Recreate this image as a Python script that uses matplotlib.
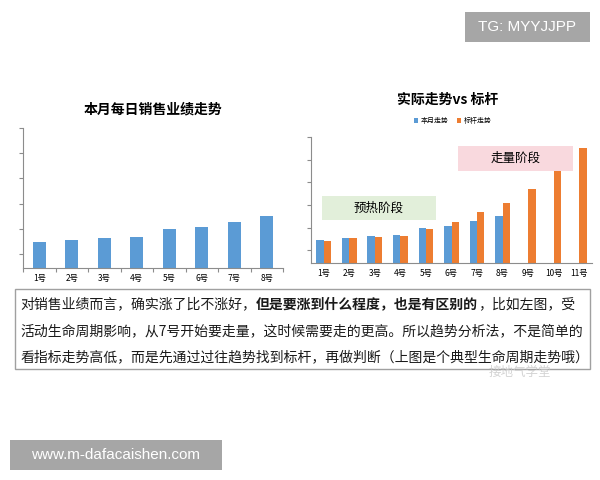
import matplotlib
matplotlib.use('Agg')
import matplotlib.pyplot as plt
from matplotlib.patches import Rectangle

plt.rcParams['font.family'] = ['Noto Sans CJK SC', 'DejaVu Sans']

# data
days_month = ['1号', '2号', '3号', '4号', '5号', '6号', '7号', '8号']
sales_month = [1.47, 1.56, 1.63, 1.68, 2.00, 2.08, 2.28, 2.50]

days_bench = ['1号', '2号', '3号', '4号', '5号', '6号', '7号', '8号', '9号', '10号', '11号']
sales_bench = [1.41, 1.53, 1.58, 1.62, 1.93, 2.27, 2.69, 3.07, 3.71, 4.52, 5.53]

legend_labels = ['本月走势', '标杆走势']
phase_labels = ['预热阶段', '走量阶段']

blue = '#5b9bd5'
orange = '#ed7d31'
axis_col = '#8c8c8c'

fig = plt.figure(figsize=(6, 4.8), dpi=100)


def style_axes(ax, n):
    for s in ['top', 'right']:
        ax.spines[s].set_visible(False)
    for s in ['left', 'bottom']:
        ax.spines[s].set_color(axis_col)
        ax.spines[s].set_linewidth(0.8)
    ax.set_xlim(-0.5, n - 0.5)
    ax.set_ylim(0.44, 6.0)
    ax.set_yticks(range(1, 7))
    ax.set_yticklabels([])
    ax.set_xticks([i - 0.5 for i in range(n + 1)], minor=False)
    ax.set_xticklabels([])
    ax.tick_params(axis='both', direction='out', length=3, color=axis_col, width=0.8)
    ax.set_xticks(range(n), minor=True)
    ax.tick_params(axis='x', which='minor', length=0, labelsize=6, pad=4)


# left chart
ax1 = fig.add_axes([23 / 600, 1 - 268 / 480, 260 / 600, 140 / 480])
x1 = range(len(days_month))
ax1.bar(x1, sales_month, width=0.41, color=blue)
style_axes(ax1, len(days_month))
ax1.set_xticklabels(days_month, minor=True)
fig.text(153 / 600, 1 - 109 / 480, '本月每日销售业绩走势', ha='center', va='center',
         fontsize=10, fontweight='bold')

# right chart
ax2 = fig.add_axes([311 / 600, 1 - 263 / 480, 281 / 600, 126 / 480])
w = 0.29
xb = range(len(days_bench))
xm = range(len(days_month))
b1 = ax2.bar([i - w / 2 for i in xm], sales_month, width=w, color=blue)
b2 = ax2.bar([i + w / 2 for i in xb], sales_bench, width=w, color=orange)
style_axes(ax2, len(days_bench))
ax2.set_xticklabels(days_bench, minor=True)
ax2.tick_params(axis='x', which='major', length=0)

ax2.add_patch(Rectangle((-0.08, 2.33), 4.48, 1.07, facecolor='#e2efda', edgecolor='none', zorder=3))
ax2.text(2.16, 2.86, phase_labels[0], ha='center', va='center', fontsize=9, zorder=4)
ax2.add_patch(Rectangle((5.25, 4.52), 4.51, 1.10, facecolor='#f9d9de', edgecolor='none', zorder=3))
ax2.text(7.5, 5.07, phase_labels[1], ha='center', va='center', fontsize=9, zorder=4)

fig.text(448 / 600, 1 - 100 / 480, '实际走势vs 标杆', ha='center', va='center',
         fontsize=10, fontweight='bold')
fig.legend([b1, b2], legend_labels, loc='center', bbox_to_anchor=(453 / 600, 1 - 121 / 480),
           ncol=2, frameon=False, fontsize=5, handlelength=0.6, handleheight=0.6,
           columnspacing=1.2, handletextpad=0.4)

# text box
fig.add_artist(Rectangle((15 / 600, 1 - 369 / 480), 575 / 600, 80 / 480, transform=fig.transFigure,
                         facecolor='white', edgecolor='#a0a0a0', linewidth=1))

lines = [
    [('对销售业绩而言，确实涨了比不涨好，', 'normal'), ('但是要涨到什么程度，也是有区别的', 'bold'),
     ('，比如左图，受', 'normal')],
    [('活动生命周期影响，从7号开始要走量，这时候需要走的更高。所以趋势分析法，不是简单的', 'normal')],
    [('看指标走势高低，而是先通过过往趋势找到标杆，再做判断（上图是个典型生命周期走势哦）', 'normal')],
]
line_y = [304, 331, 357]
renderer = fig.canvas.get_renderer()
for segs, yy in zip(lines, line_y):
    xpos = 20
    for s, wt in segs:
        t = fig.text(xpos / 600, 1 - yy / 480, s, ha='left', va='center', fontsize=10,
                     fontweight=wt, color='#1a1a1a')
        xpos += t.get_window_extent(renderer).width

fig.text(520 / 600, 1 - 372 / 480, '接地气学堂', ha='center', va='center', fontsize=9,
         color='#c8c8c8', alpha=0.8)

# watermarks
fig.add_artist(Rectangle((465 / 600, 1 - 42 / 480), 125 / 600, 30 / 480, transform=fig.transFigure,
                         facecolor='#a6a6a6', edgecolor='none'))
fig.text(527 / 600, 1 - 27 / 480, 'TG: MYYJJPP', ha='center', va='center', fontsize=11,
         color='white', family='Liberation Sans')
fig.add_artist(Rectangle((10 / 600, 1 - 470 / 480), 212 / 600, 30 / 480, transform=fig.transFigure,
                         facecolor='#a6a6a6', edgecolor='none'))
fig.text(116 / 600, 1 - 455 / 480, 'www.m-dafacaishen.com', ha='center', va='center', fontsize=11,
         color='white', family='Liberation Sans')

fig.savefig('out.png', dpi=100)
